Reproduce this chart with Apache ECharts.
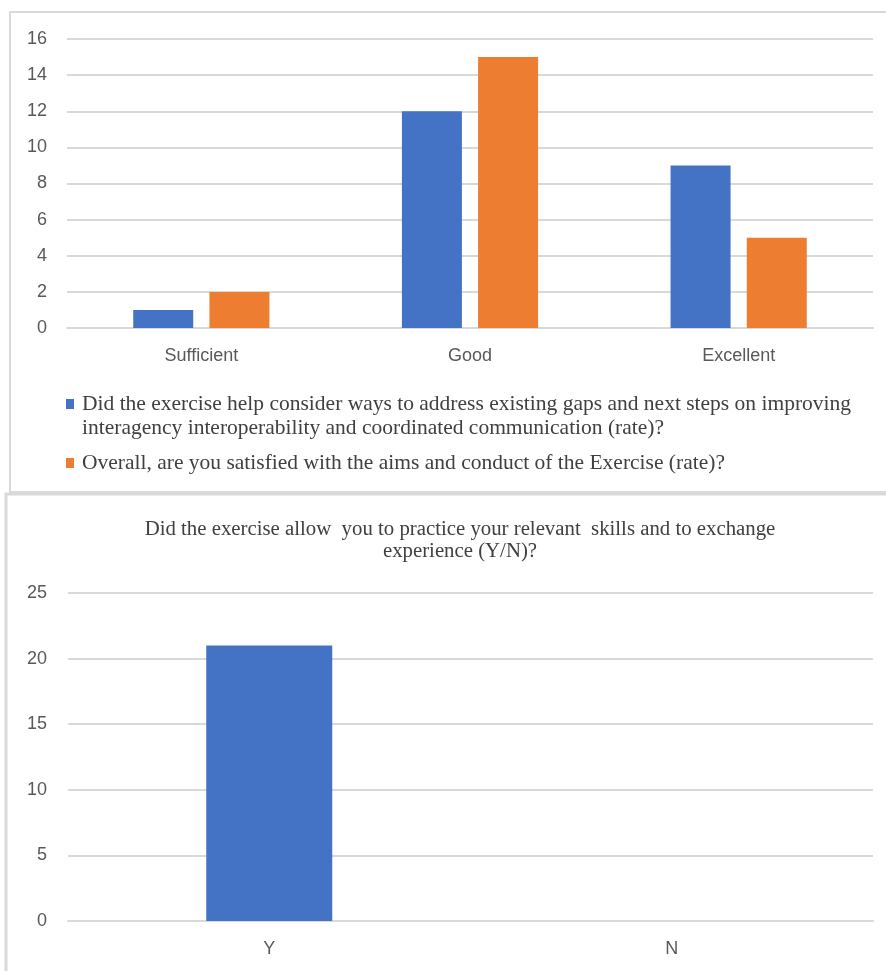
<!DOCTYPE html>
<html><head><meta charset="utf-8">
<script src="https://cdn.jsdelivr.net/npm/echarts@6/dist/echarts.min.js"></script>
<style>html,body{margin:0;padding:0;background:#fff}#c{width:886px;height:971px}</style>
</head><body><div id="c"></div>
<script>
const categoriesTop = ['Sufficient', 'Good', 'Excellent'];
const seriesHelpName = 'Did the exercise help consider ways to address existing gaps and next steps on improving\ninteragency interoperability and coordinated communication (rate)?';
const seriesHelp = [1, 12, 9];
const seriesSatName = 'Overall, are you satisfied with the aims and conduct of the Exercise (rate)?';
const seriesSat = [2, 15, 5];
const categoriesBottom = ['Y', 'N'];
const seriesPractice = [21, 0];
const bottomTitle = 'Did the exercise allow  you to practice your relevant  skills and to exchange\nexperience (Y/N)?';

const chart = echarts.init(document.getElementById('c'));
const gridColor = '#d9d9d9';
const labelColor = '#595959';
const sans = '"Liberation Sans", Arial, sans-serif';
const serif = '"Liberation Serif", "Times New Roman", serif';

chart.setOption({
  animation: false,
  graphic: [
    {type: 'rect', shape: {x: 10, y: 12, width: 890, height: 480}, style: {fill: 'none', stroke: gridColor, lineWidth: 2}, z: -1},
    {type: 'rect', shape: {x: 6, y: 494, width: 900, height: 500}, style: {fill: 'none', stroke: gridColor, lineWidth: 3}, z: -1}
  ],
  title: {
    text: bottomTitle,
    left: 455, top: 514, textAlign: 'center',
    textStyle: {fontFamily: serif, fontSize: 20.8, fontWeight: 'normal', color: '#404040', lineHeight: 22}
  },
  legend: [
    {
      data: [{name: seriesHelpName, icon: 'path://M0,0h8v10h-8zM10.99,33.99h0.01v0.01h-0.01z'}],
      orient: 'vertical', left: 66, top: 392, padding: 0,
      itemWidth: 11, itemHeight: 34,
      textStyle: {fontFamily: serif, fontSize: 21.5, color: '#404040', lineHeight: 24}
    },
    {
      data: [{name: seriesSatName, icon: 'path://M0,0h8v10h-8zM10.99,9.99h0.01v0.01h-0.01z'}],
      orient: 'vertical', left: 66, top: 451, padding: 0,
      itemWidth: 11, itemHeight: 10,
      textStyle: {fontFamily: serif, fontSize: 21.5, color: '#404040', lineHeight: 24}
    }
  ],
  grid: [
    {left: 67, right: 13, top: 39, bottom: 643},
    {left: 68, right: 13, top: 593, bottom: 50}
  ],
  xAxis: [
    {type: 'category', gridIndex: 0, data: categoriesTop,
     axisLine: {lineStyle: {color: gridColor, width: 2}}, axisTick: {show: false},
     axisLabel: {fontFamily: sans, fontSize: 18, color: labelColor, margin: 19}},
    {type: 'category', gridIndex: 1, data: categoriesBottom,
     axisLine: {lineStyle: {color: gridColor, width: 2}}, axisTick: {show: false},
     axisLabel: {fontFamily: sans, fontSize: 18, color: labelColor, margin: 19}}
  ],
  yAxis: [
    {type: 'value', gridIndex: 0, min: 0, max: 16, interval: 2,
     axisLine: {show: false}, axisTick: {show: false},
     splitLine: {lineStyle: {color: gridColor, width: 2}},
     axisLabel: {fontFamily: sans, fontSize: 18, color: labelColor, margin: 20}},
    {type: 'value', gridIndex: 1, min: 0, max: 25, interval: 5,
     axisLine: {show: false}, axisTick: {show: false},
     splitLine: {lineStyle: {color: gridColor, width: 2}},
     axisLabel: {fontFamily: sans, fontSize: 18, color: labelColor, margin: 21}}
  ],
  series: [
    {name: seriesHelpName, type: 'bar', xAxisIndex: 0, yAxisIndex: 0, data: seriesHelp,
     barWidth: 60, barGap: '27%', itemStyle: {color: '#4472C4'}},
    {name: seriesSatName, type: 'bar', xAxisIndex: 0, yAxisIndex: 0, data: seriesSat,
     barWidth: 60, barGap: '27%', itemStyle: {color: '#ED7D31'}},
    {name: 'practice', type: 'bar', xAxisIndex: 1, yAxisIndex: 1, data: seriesPractice,
     barWidth: 126, itemStyle: {color: '#4472C4'}}
  ]
});
</script></body></html>
